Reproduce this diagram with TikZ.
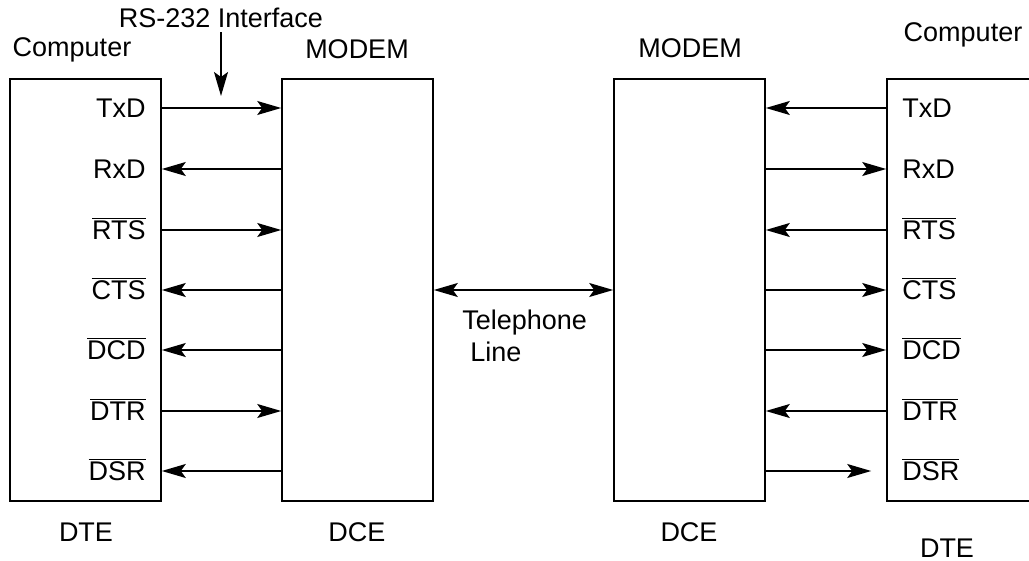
\documentclass[tikz,border=0pt]{standalone}
\usepackage{fontspec}
\setmainfont{Liberation Sans}
\usetikzlibrary{arrows.meta}
\newcommand{\negsig}[1]{$\overline{\mbox{#1}}$}
\tikzset{
  tip/.tip={Stealth[length=12pt,width=7pt,inset=2.5pt]},
  unit/.style={draw,line width=0.8pt,minimum width=75.5pt,minimum height=211pt,inner sep=0pt},
  sig/.style={line width=0.7pt,-tip},
  siglabel/.style={inner sep=0pt,text height=9.6pt,text depth=0pt},
  caption/.style={inner sep=2pt}
}
\begin{document}
\begin{tikzpicture}[x=0.5pt,y=-0.5pt,font=\fontsize{13.5}{16}\selectfont]
  \useasboundingbox (0,0) rectangle (1029,561);
  \clip (0,0) rectangle (1029,561);
  % the four units
  \node[unit] (dteL) at (85.5,290) {};
  \node[unit] (dceL) at (357.5,290) {};
  \node[unit] (dceR) at (689.5,290) {};
  \node[unit] (dteR) at (962.5,290) {};
  \node[caption] (compL)  at (72,50)  {Computer};
  \node[caption] (modemL) at (357,49) {MODEM};
  \node[caption] (modemR) at (690,48) {MODEM};
  \node[caption] (compR)  at (963,35) {Computer};
  \node[caption] (kindA) at (86,532)  {DTE};
  \node[caption] (kindB) at (357,532) {DCE};
  \node[caption] (kindC) at (689,532) {DCE};
  \node[caption] (kindD) at (947,548) {DTE};
  % interface pointer
  \node[caption] (rs) at (221,18) {RS-232 Interface};
  \coordinate (rstip) at (221,96);
  \draw[sig] (rs.south) -- (rstip);
  % signal lines, \out=1 means DTE -> DCE
  \foreach \sig/\row/\out/\gap [count=\i] in
    {TxD/108/1/0pt, RxD/169/0/0pt, \negsig{RTS}/230/1/0pt, \negsig{CTS}/290/0/0pt,
     \negsig{DCD}/350/0/0pt, \negsig{DTR}/411/1/0pt, \negsig{DSR}/471/0/7.5pt}{
    \node[siglabel,anchor=east] (sl\i) at (146,\row) {\sig};
    \node[siglabel,anchor=west] (sr\i) at (902,\row) {\sig};
    \ifnum\out=1
      \draw[sig] (dteL.east |- sl\i) -- (dceL.west |- sl\i);
      \draw[sig] (dteR.west |- sr\i) -- (dceR.east |- sr\i);
    \else
      \draw[sig] (dceL.west |- sl\i) -- (dteL.east |- sl\i);
      \draw[sig,shorten >=\gap] (dceR.east |- sr\i) -- (dteR.west |- sr\i);
    \fi
  }
  % telephone line
  \draw[sig,tip-tip] (dceL.east) -- (dceR.west);
  \node[align=left,anchor=west,inner sep=0pt] (tele) at (462,336) {Telephone\\\hspace{4pt}Line};
\end{tikzpicture}
\end{document}
